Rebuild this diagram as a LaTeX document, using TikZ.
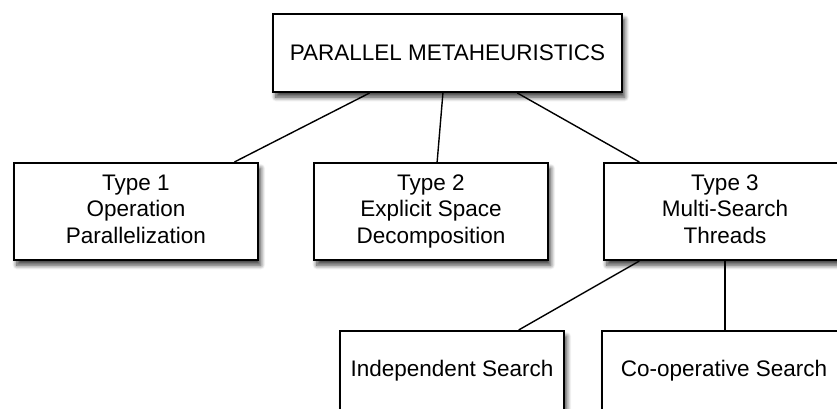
\documentclass[tikz,border=0pt]{standalone}
\usepackage{fontspec}
\setmainfont{Liberation Sans}
\usetikzlibrary{calc,shadows.blur}

\begin{document}
\begin{tikzpicture}[x=0.5pt,y=-0.5pt,line width=0.7pt]
\tikzstyle{box}=[draw,fill=white,line width=1pt,align=center,inner sep=0pt,
font=\fontsize{11.25}{13.4}\selectfont,
blur shadow={shadow xshift=1.4pt,shadow yshift=-2.6pt,shadow blur radius=2.2pt,shadow blur steps=8,shadow opacity=75}]

\useasboundingbox (0,0) rectangle (837,408);

\node[box,minimum width=174.5pt,minimum height=39pt]  (P)  at (447.5,53)  {PARALLEL METAHEURISTICS};
\node[box,minimum width=122pt,minimum height=48.5pt]  (T1) at (136,211.5) {\strut Type 1\\Operation\\Parallelization\strut};
\node[box,minimum width=117pt,minimum height=48.5pt]  (T2) at (431,211.5) {\strut Type 2\\Explicit Space\\Decomposition\strut};
\node[box,minimum width=121pt,minimum height=48.5pt]  (T3) at (725,211.5) {\strut Type 3\\Multi-Search\\Threads\strut};
\node[box,minimum width=112pt,minimum height=39.5pt]  (IS) at (452,370.5) {Independent Search};
\node[box,minimum width=122pt,minimum height=39.5pt]  (CS) at (724,370.5) {Co-operative Search};

\draw ($(P.south west)!.278!(P.south east)$) -- ($(T1.north west)!.90!(T1.north east)$);
\draw ($(P.south west)!.487!(P.south east)$) -- ($(T2.north west)!.526!(T2.north east)$);
\draw ($(P.south west)!.699!(P.south east)$) -- ($(T3.north west)!.149!(T3.north east)$);
\draw ($(T3.south west)!.149!(T3.south east)$) -- ($(IS.north west)!.795!(IS.north east)$);
\draw (T3.south) -- (T3.south |- CS.north);
\end{tikzpicture}
\end{document}
